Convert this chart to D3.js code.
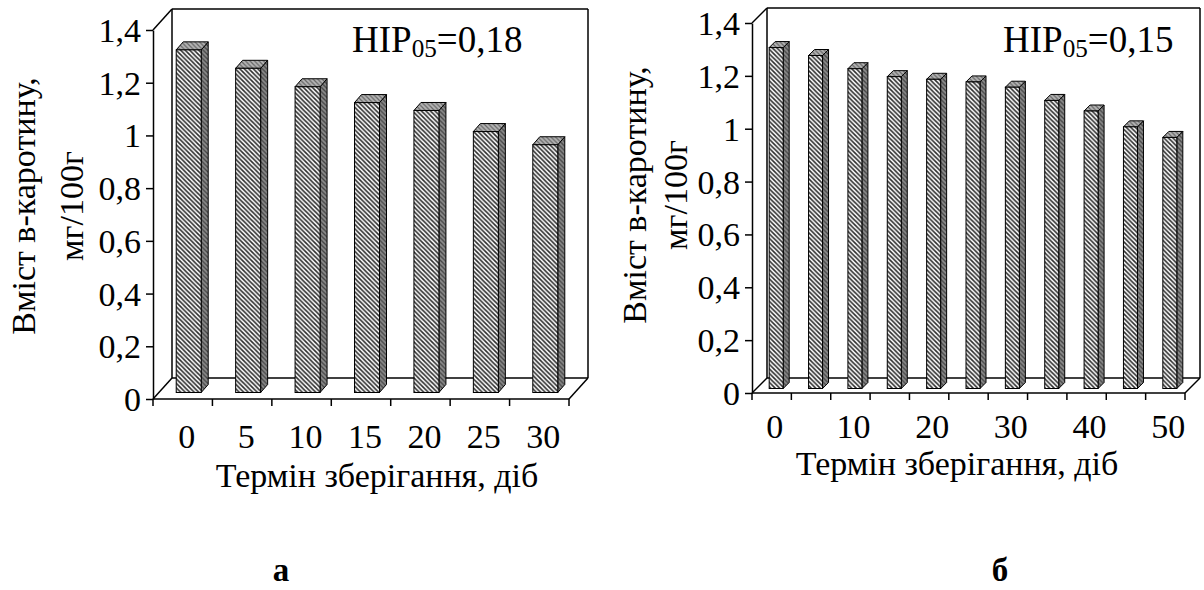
<!DOCTYPE html>
<html>
<head>
<meta charset="utf-8">
<script src="https://cdn.jsdelivr.net/npm/d3@7"></script>
<style>
  html, body { margin: 0; padding: 0; background: #fff; }
  svg { display: block; }
</style>
</head>
<body>
<svg id="chart" width="1204" height="590" font-family="'Liberation Serif', 'Times New Roman', serif"></svg>
<script>
// Storage time (days) and beta-carotene content, mg/100 g
const daysA = [0, 5, 10, 15, 20, 25, 30];
const caroteneA = [1.30, 1.23, 1.16, 1.10, 1.07, 0.99, 0.94];
const daysB = [0, 5, 10, 15, 20, 25, 30, 35, 40, 45, 50];
const caroteneB = [1.29, 1.26, 1.21, 1.18, 1.17, 1.16, 1.14, 1.09, 1.05, 0.99, 0.95];
const labelsA = ["0", "5", "10", "15", "20", "25", "30"];
const labelsB = ["0", "10", "20", "30", "40", "50"];
const yTickValues = [0, 0.2, 0.4, 0.6, 0.8, 1, 1.2, 1.4];
const lsdA = "0,18";
const lsdB = "0,15";

const SERIF = "'Liberation Serif', 'Times New Roman', serif";
const svg = d3.select("#chart");
const defs = svg.append("defs");

// diagonal hatch fills for the column faces
function hatch(id, bg, ink, w) {
  const p = defs.append("pattern")
    .attr("id", id).attr("patternUnits", "userSpaceOnUse")
    .attr("width", 4.5).attr("height", 4.5);
  p.append("rect").attr("width", 4.5).attr("height", 4.5).attr("fill", bg);
  p.append("path")
    .attr("d", "M-1,-1L5.5,5.5M-1,3.5L1,5.5M3.5,-1L5.5,1")
    .attr("stroke", ink).attr("stroke-width", w).attr("fill", "none");
}
hatch("hFront", "#ffffff", "#2e2e2e", 1.6);
hatch("hSide", "#8a8a8a", "#444444", 1.3);
hatch("hTop", "#b4b4b4", "#666666", 1.2);

const fmt = d => d === 0 ? "0" : (d === 1 ? "1" : d.toFixed(1).replace(".", ","));

function drawPanel(g, days, values, shownLabels, lsd, geo) {
  const y = d3.scaleLinear().domain([0, 1.4]).range([geo.y0, geo.yTop]);
  const x = d3.scaleBand().domain(days).range([geo.x0, geo.x1]).padding(0);
  const dx = geo.dx, dy = geo.dy;
  const line = (a, b, c, d) => g.append("line")
    .attr("x1", a).attr("y1", b).attr("x2", c).attr("y2", d)
    .attr("stroke", "#000").attr("stroke-width", 1.5);

  // back wall and floor outline
  const xL = geo.x0, xR = geo.x1, yB = y(0), yT = y(1.4);
  line(xL + dx, yT - dy, xR + dx, yT - dy);
  line(xL + dx, yT - dy, xL + dx, yB - dy);
  line(xR + dx, yT - dy, xR + dx, yB - dy);
  line(xL + dx, yB - dy, xR + dx, yB - dy);
  line(xL, yT, xL + dx, yT - dy);
  line(xL, yB, xL + dx, yB - dy);
  line(xR, yB, xR + dx, yB - dy);

  // columns
  const ox = (dx - geo.bdx) / 2, oy = (dy - geo.bdy) / 2;
  const bars = g.selectAll("g.bar").data(days.map((d, i) => ({ d, v: values[i] })))
    .enter().append("g").attr("class", "bar");
  bars.each(function (p) {
    const b = d3.select(this);
    const xl = x(p.d) + x.bandwidth() / 2 - geo.bw / 2 + ox;
    const xr = xl + geo.bw;
    const yt = y(p.v) - oy, yb = y(0) - oy;
    b.append("polygon")
      .attr("points", [[xr, yt], [xr + geo.bdx, yt - geo.bdy], [xr + geo.bdx, yb - geo.bdy], [xr, yb]].join(" "))
      .attr("fill", "url(#hSide)").attr("stroke", "#000").attr("stroke-width", 1).attr("stroke-linejoin", "round");
    b.append("polygon")
      .attr("points", [[xl, yt], [xl + geo.bdx, yt - geo.bdy], [xr + geo.bdx, yt - geo.bdy], [xr, yt]].join(" "))
      .attr("fill", "url(#hTop)").attr("stroke", "#000").attr("stroke-width", 1).attr("stroke-linejoin", "round");
    b.append("rect")
      .attr("x", xl).attr("y", yt).attr("width", geo.bw).attr("height", yb - yt)
      .attr("fill", "url(#hFront)").attr("stroke", "#000").attr("stroke-width", 1);
  });

  // value axis
  const ya = g.append("g").attr("transform", `translate(${geo.x0},0)`)
    .call(d3.axisLeft(y).tickValues(yTickValues).tickFormat(fmt).tickSize(7).tickSizeOuter(0).tickPadding(5))
    .attr("font-family", SERIF).attr("font-size", geo.fs);
  ya.select(".domain").attr("stroke", "#000").attr("stroke-width", 1.5);
  ya.selectAll(".tick line").attr("stroke", "#000").attr("stroke-width", 1.5);
  ya.selectAll(".tick text").attr("fill", "#000").attr("dy", "0.34em");

  // category axis: tick marks between categories
  line(geo.x0, y(0), geo.x1, y(0));
  const edges = d3.range(days.length + 1).map(i => geo.x0 + i * x.step());
  g.selectAll("line.xt").data(edges).enter().append("line").attr("class", "xt")
    .attr("x1", d => d).attr("x2", d => d).attr("y1", y(0)).attr("y2", y(0) + 7)
    .attr("stroke", "#000").attr("stroke-width", 1.5);
  g.selectAll("text.xl").data(days.filter(d => shownLabels.includes(String(d)))).enter()
    .append("text").attr("class", "xl").attr("font-family", SERIF)
    .attr("x", d => x(d) + x.bandwidth() / 2 + geo.lx).attr("y", geo.xlY)
    .attr("text-anchor", "middle").attr("font-size", geo.fs).text(d => d);

  // axis titles
  g.append("text").attr("x", geo.xtX).attr("y", geo.xtY).attr("text-anchor", "middle")
    .attr("font-family", SERIF).attr("font-size", geo.fs).text("Термін зберігання, діб");
  g.append("text").attr("text-anchor", "middle").attr("font-size", geo.fs).attr("font-family", SERIF)
    .attr("transform", `translate(${geo.ytX1},${geo.ytY}) rotate(-90)`)
    .text(geo.ytLine1);
  g.append("text").attr("text-anchor", "middle").attr("font-size", geo.fs).attr("font-family", SERIF)
    .attr("transform", `translate(${geo.ytX2},${geo.ytY}) rotate(-90)`)
    .text("мг/100г");

  // least significant difference
  const t = g.append("text").attr("x", geo.hipX).attr("y", geo.hipY)
    .attr("font-family", SERIF).attr("font-size", geo.hfs);
  t.append("tspan").text("НІР");
  t.append("tspan").attr("font-size", geo.hfs * 0.68).attr("dy", 5).text("05");
  t.append("tspan").attr("dy", -5).text("=" + lsd);

  // panel letter
  g.append("text").attr("x", geo.letX).attr("y", 581).attr("text-anchor", "middle")
    .attr("font-family", SERIF).attr("font-size", 33).attr("font-weight", "bold").text(geo.letter);
}

drawPanel(svg.append("g"), daysA, caroteneA, labelsA, lsdA, {
  x0: 153, x1: 569, y0: 399, yTop: 30, dx: 19, dy: 21, bw: 25, bdx: 7, bdy: 8,
  fs: 34, lx: 4, xlY: 448, xtX: 377, xtY: 487,
  ytX1: 35, ytX2: 83, ytY: 206, ytLine1: "Вміст  в-каротину,",
  hfs: 37, hipX: 352, hipY: 52, letX: 281, letter: "а"
});
drawPanel(svg.append("g"), daysB, caroteneB, labelsB, lsdB, {
  x0: 752, x1: 1185, y0: 393, yTop: 23, dx: 15, dy: 15, bw: 14, bdx: 6, bdy: 6,
  fs: 34, lx: 3, xlY: 438, xtX: 957, xtY: 475,
  ytX1: 646, ytX2: 687, ytY: 195, ytLine1: "Вміст в-каротину,",
  hfs: 37, hipX: 1003, hipY: 52, letX: 1000, letter: "б"
});
</script>
</body>
</html>
